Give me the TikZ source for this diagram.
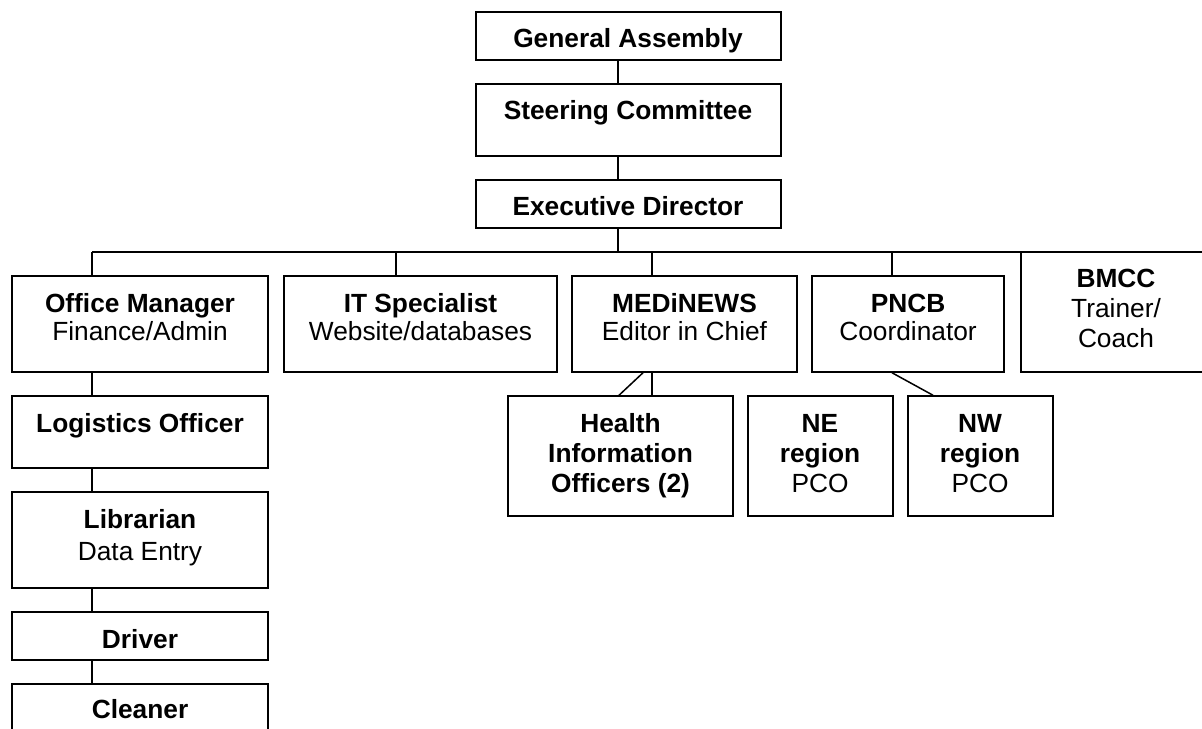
\documentclass[tikz,border=0pt]{standalone}
\usepackage{fontspec}
\setmainfont{Liberation Sans}
\newcommand\obox[5]{%
  \pgfmathsetmacro\oxc{(#2+#4)/2}\pgfmathsetmacro\oyc{(#3+#5)/2}%
  \pgfmathsetmacro\obw{(#4-#2)*0.5}\pgfmathsetmacro\obh{(#5-#3)*0.5}%
  \node[box,minimum width=\obw pt,minimum height=\obh pt] (#1) at (\oxc,\oyc) {};}
\newcommand\tl[2]{\begin{tabular}[t]{@{}c@{}}\bfseries #1\\ #2\end{tabular}}
\newcommand\tll[3]{\begin{tabular}[t]{@{}c@{}}#1\\ #2\\ #3\end{tabular}}
\begin{document}
\begin{tikzpicture}[x=0.5pt,y=-0.5pt,
  box/.style={draw,rectangle,inner sep=0,line width=0.75pt},
  lab/.style={inner sep=0,anchor=base,font=\fontsize{13.15}{#1}\selectfont},
  lab/.default=15,
  conn/.style={line width=0.75pt}]
\useasboundingbox (0,0) rectangle (1202,728);
\clip (0,0) rectangle (1202,728);
% boxes
\obox{GA}{476}{12}{781}{60}
\obox{SC}{476}{84}{781}{156}
\obox{ED}{476}{180}{781}{228}
\obox{OM}{12}{276}{268}{372}
\obox{IT}{284}{276}{557}{372}
\obox{MN}{572}{276}{797}{372}
\obox{PN}{812}{276}{1004}{372}
\obox{BM}{1021}{252}{1215}{372}
\obox{LO}{12}{396}{268}{468}
\obox{LB}{12}{492}{268}{588}
\obox{DR}{12}{612}{268}{660}
\obox{CL}{12}{684}{268}{770}
\obox{HI}{508}{396}{733}{516}
\obox{NE}{748}{396}{893}{516}
\obox{NW}{908}{396}{1053}{516}
% labels
\node[lab] (tGA) at (628,47) {\bfseries General Assembly};
\node[lab] (tSC) at (628,119) {\bfseries Steering Committee};
\node[lab] (tED) at (628,215) {\bfseries Executive Director};
\node[lab=14.3] (tOM) at (140,312) {\tl{Office Manager}{Finance/Admin}};
\node[lab=14.3] (tIT) at (420.5,312) {\tl{IT Specialist}{Website/databases}};
\node[lab=14.3] (tMN) at (684.5,312) {\tl{MEDiNEWS}{Editor in Chief}};
\node[lab=14.3] (tPN) at (908,312) {\tl{PNCB}{Coordinator}};
\node[lab=15.2] (tBM) at (1116,287) {\tll{\bfseries BMCC}{Trainer/}{Coach}};
\node[lab] (tLO) at (140,432) {\bfseries Logistics Officer};
\node[lab=16] (tLB) at (140,528) {\tl{Librarian}{Data Entry}};
\node[lab] (tDR) at (140,648) {\bfseries Driver};
\node[lab] (tCL) at (140,718) {\bfseries Cleaner};
\node[lab=15.2] (tHI) at (620.5,432) {\tll{\bfseries Health}{\bfseries Information}{\bfseries Officers (2)}};
\node[lab=15] (tNE) at (820,432) {\tll{\bfseries NE}{\bfseries region}{PCO}};
\node[lab=15] (tNW) at (980,432) {\tll{\bfseries NW}{\bfseries region}{PCO}};
% connectors
\coordinate (trunk) at (618,0);
\coordinate (bOM) at (92,252);
\coordinate (bIT) at (396,252);
\coordinate (bMN) at (652,252);
\coordinate (bPN) at (892,252);
\coordinate (bBM) at (1100,252);
\coordinate (dMN) at (643,0);
\coordinate (dHI) at (619,0);
\coordinate (dNW) at (933,0);
\draw[conn] (GA.south -| trunk) -- (SC.north -| trunk);
\draw[conn] (SC.south -| trunk) -- (ED.north -| trunk);
\draw[conn] (ED.south -| trunk) -- (bOM -| trunk);
\draw[conn] (bOM) -- (bBM);
\draw[conn] (bOM) -- (OM.north -| bOM);
\draw[conn] (bIT) -- (IT.north -| bIT);
\draw[conn] (bMN) -- (MN.north -| bMN);
\draw[conn] (bPN) -- (PN.north -| bPN);
\draw[conn] (OM.south -| bOM) -- (LO.north -| bOM);
\draw[conn] (LO.south -| bOM) -- (LB.north -| bOM);
\draw[conn] (LB.south -| bOM) -- (DR.north -| bOM);
\draw[conn] (DR.south -| bOM) -- (CL.north -| bOM);
\draw[conn] (MN.south -| bMN) -- (HI.north -| bMN);
\draw[conn] (MN.south -| dMN) -- (HI.north -| dHI);
\draw[conn] (PN.south -| bPN) -- (NW.north -| dNW);
\end{tikzpicture}
\end{document}
